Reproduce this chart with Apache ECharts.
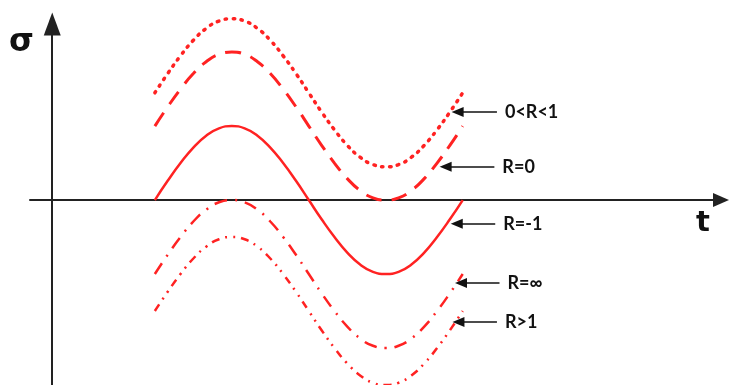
<!DOCTYPE html>
<html>
<head>
<meta charset="utf-8">
<script src="https://cdn.jsdelivr.net/npm/echarts@6/dist/echarts.min.js"></script>
<style>
  html, body { margin: 0; padding: 0; background: #fff; }
  #chart { width: 729px; height: 385px; }
</style>
</head>
<body>
<div id="chart"></div>
<script>
// t positions (one period)
var tValues = [120, 135, 150, 165, 180, 195, 210, 225, 240, 255, 270, 285, 300,
  315, 330, 345, 360, 375, 390, 405, 420, 435, 450, 465, 480]

// sigma values per curve
var rBetween = [1.45, 1.71, 1.95, 2.16, 2.32, 2.42, 2.45, 2.42, 2.32, 2.16, 1.95, 1.71, 1.45,
  1.19, 0.95, 0.74, 0.58, 0.48, 0.45, 0.48, 0.58, 0.74, 0.95, 1.19, 1.45]
var rZero = [1, 1.26, 1.5, 1.71, 1.87, 1.97, 2, 1.97, 1.87, 1.71, 1.5, 1.26, 1,
  0.74, 0.5, 0.29, 0.13, 0.03, 0, 0.03, 0.13, 0.29, 0.5, 0.74, 1]
var rMinusOne = [0, 0.26, 0.5, 0.71, 0.87, 0.97, 1, 0.97, 0.87, 0.71, 0.5, 0.26, 0,
  -0.26, -0.5, -0.71, -0.87, -0.97, -1, -0.97, -0.87, -0.71, -0.5, -0.26, 0]
var rInf = [-1, -0.74, -0.5, -0.29, -0.13, -0.03, 0, -0.03, -0.13, -0.29, -0.5, -0.74, -1,
  -1.26, -1.5, -1.71, -1.87, -1.97, -2, -1.97, -1.87, -1.71, -1.5, -1.26, -1]
var rAboveOne = [-1.5, -1.24, -1, -0.79, -0.63, -0.53, -0.5, -0.53, -0.63, -0.79, -1, -1.24, -1.5,
  -1.76, -2, -2.21, -2.37, -2.47, -2.5, -2.47, -2.37, -2.21, -2, -1.76, -1.5]

// label arrows: label, tip [t, sigma], tail t
var labels = ['0<R<1', 'R=0', 'R=-1', 'R=\u221E', 'R>1']
var arrowTips = [[474, 1.19], [460, 0.45], [473, -0.32], [478, -1.12], [475, -1.65]]
var arrowTails = [520, 517, 518, 523, 520]

var red = '#ff2222'

function pairs(vals) {
  return tValues.map(function (t, i) { return [t, vals[i]] })
}

function arrowLine(i) {
  return {
    silent: true,
    symbol: ['triangle', 'none'],
    symbolSize: [10, 12],
    lineStyle: { color: '#111', width: 1.6, type: 'solid' },
    label: {
      show: true,
      position: 'end',
      distance: 8,
      formatter: '{b}',
      color: '#111',
      fontFamily: 'Lato',
      fontWeight: 'bold',
      fontSize: 18
    },
    emphasis: { disabled: true },
    data: [[
      { coord: arrowTips[i], name: labels[i] },
      { coord: [arrowTails[i], arrowTips[i][1]] }
    ]]
  }
}

function curve(vals, i, style) {
  return {
    type: 'line',
    data: pairs(vals),
    smooth: true,
    showSymbol: false,
    silent: true,
    clip: false,
    lineStyle: Object.assign({ color: red }, style),
    markLine: arrowLine(i)
  }
}

var chart = echarts.init(document.getElementById('chart'))
chart.setOption({
  animation: false,
  grid: { left: 30, right: 8, top: 24, bottom: 0 },
  xAxis: {
    type: 'value',
    min: -26,
    max: 782,
    axisLine: {
      onZero: true,
      symbol: ['none', 'triangle'],
      symbolSize: [14, 16],
      lineStyle: { color: '#222', width: 2 }
    },
    axisTick: { show: false },
    axisLabel: { show: false },
    splitLine: { show: false }
  },
  yAxis: {
    type: 'value',
    min: -2.5,
    max: 2.38,
    axisLine: {
      onZero: true,
      symbol: ['none', 'triangle'],
      symbolSize: [17, 23],
      lineStyle: { color: '#222', width: 2 }
    },
    axisTick: { show: false },
    axisLabel: { show: false },
    splitLine: { show: false }
  },
  graphic: [
    { type: 'text', left: 9, top: 27, style: { text: '\u03C3', fontSize: 32, fontWeight: 'bold', fontFamily: 'DejaVu Sans', fill: '#111' } },
    { type: 'text', left: 696, top: 209, style: { text: 't', fontSize: 29, fontWeight: 'bold', fontFamily: 'DejaVu Sans', fill: '#111' } }
  ],
  series: [
    curve(rBetween, 0, { width: 3.5, type: [1.5, 6.5], cap: 'round' }),
    curve(rZero, 1, { width: 3, type: [16, 10] }),
    curve(rMinusOne, 2, { width: 2.5, type: 'solid' }),
    curve(rInf, 3, { width: 2.5, type: [13, 8, 2, 8] }),
    curve(rAboveOne, 4, { width: 2.5, type: [8, 6, 2, 6, 2, 6] })
  ]
})
</script>
</body>
</html>
